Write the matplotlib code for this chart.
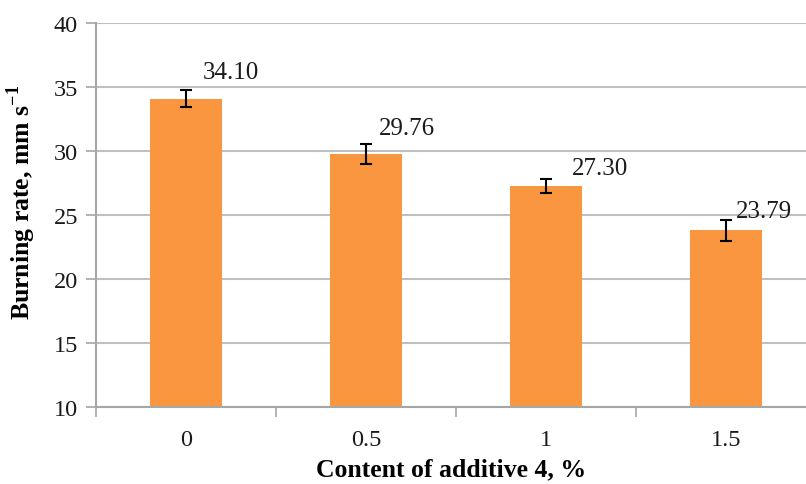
import matplotlib.pyplot as plt

# burning rate vs. additive content
contents = ["0", "0.5", "1", "1.5"]
rates = [34.10, 29.76, 27.30, 23.79]
errors = [0.70, 0.78, 0.55, 0.80]

# where each value label sits relative to its bar (x in categories, y in mm/s)
label_dx = [0.25, 0.225, 0.30, 0.21]
label_dy = [2.07, 2.04, 1.37, 1.52]

plt.rcParams['font.family'] = ['Liberation Serif', 'DejaVu Serif']
plt.rcParams['mathtext.fontset'] = 'custom'
plt.rcParams['mathtext.rm'] = 'Liberation Serif'
plt.rcParams['mathtext.bf'] = 'Liberation Serif:bold'

fig = plt.figure(figsize=(8.06, 4.85), dpi=100)
ax = fig.add_axes([96 / 806, 77 / 485, 710 / 806, 384 / 485])

xs = range(len(rates))
ax.bar(xs, rates, width=0.4, color='#F9963F', zorder=2)
ax.errorbar(xs, rates, yerr=errors, fmt='none', ecolor='black',
            elinewidth=1.5, capsize=4.5, capthick=1.5, zorder=3)

for i, (v, dx, dy) in enumerate(zip(rates, label_dx, label_dy)):
    ax.text(i + dx, v + dy, "%.2f" % v, ha='center', va='center',
            fontsize=18, color='#1a1a1a')

ax.set_ylim(10, 40)
ax.set_yticks(range(10, 41, 5))
ax.set_xlim(-0.5, 3.5 - 10 / 180)
ax.set_xticks(list(xs))
ax.set_xticklabels(contents)
ax.set_xticks([-0.5, 0.5, 1.5, 2.5], minor=True)

ax.yaxis.grid(True, color='#bfbfbf', linewidth=1.5, zorder=0)
ax.set_axisbelow(True)

for side in ['top', 'right']:
    ax.spines[side].set_visible(False)
for side in ['left', 'bottom']:
    ax.spines[side].set_color('#a6a6a6')
    ax.spines[side].set_linewidth(1.5)

ax.tick_params(axis='y', length=7, width=1.2, color='#a6a6a6',
               labelsize=17.5, labelcolor='#1a1a1a', pad=6)
ax.tick_params(axis='x', which='major', length=0, labelsize=17.5,
               labelcolor='#1a1a1a', pad=16)
ax.tick_params(axis='x', which='minor', length=7, width=1.2, color='#a6a6a6')

ax.set_ylabel("Burning rate, mm s$^{\\mathbf{-1}}$", fontsize=18.5,
              fontweight='bold')
ax.yaxis.set_label_coords(-0.082, 0.535)
ax.set_xlabel("Content of additive 4, %", fontsize=18.5, fontweight='bold',
              labelpad=5)

fig.savefig("out.png", dpi=100)
